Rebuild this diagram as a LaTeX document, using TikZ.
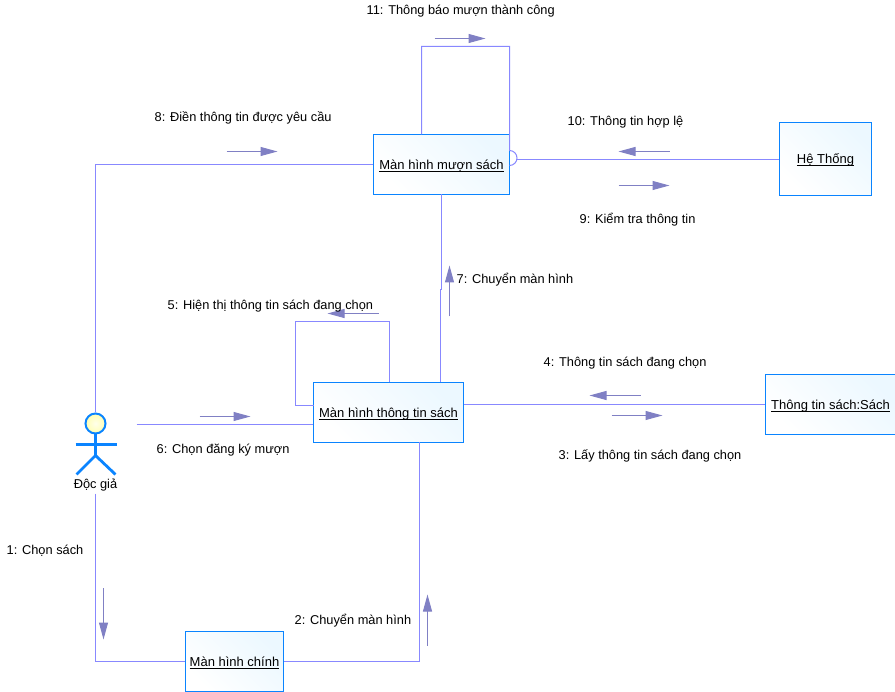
\documentclass[tikz,border=0pt]{standalone}
\usepackage{fontspec}
\setmainfont{Liberation Sans}
\usetikzlibrary{arrows.meta}
\definecolor{boxline}{HTML}{0A84FF}
\definecolor{boxfill}{HTML}{ECF8FF}
\definecolor{linkline}{HTML}{8888FF}
\definecolor{msgline}{HTML}{8080C4}
\newcommand{\objname}[1]{\underline{\smash{#1}}}
\tikzset{
  objbox/.style={shape=rectangle, draw=boxline, line width=1.4pt, left color=white, right color=boxfill, shading angle=135, inner sep=0pt, text height=13pt, text depth=3pt, font=\fontsize{13}{14}\selectfont},
  link/.style={-, line width=1pt, draw=linkline},
  msg/.style={-{Triangle[length=17pt,width=9pt]}, line width=1pt, draw=msgline},
  msglabel/.style={anchor=west, inner sep=0pt, yshift=-1pt, font=\fontsize{12.8}{14}\selectfont},
  limb/.style={line width=2.8pt, draw=boxline}
}
\begin{document}
\begin{tikzpicture}[x=1pt,y=-1pt]
\useasboundingbox (-0.5,-0.5) rectangle (894.5,691.5);
% objects
\node[objbox, minimum width=136pt, minimum height=60pt] (muon) at (441,164) {\objname{Màn hình mượn sách}};
\node[objbox, minimum width=92pt, minimum height=73pt] (heth) at (825,158.5) {\objname{Hệ Thống}};
\node[objbox, minimum width=150pt, minimum height=60pt] (ttin) at (388,412) {\objname{Màn hình thông tin sách}};
\node[objbox, minimum width=130pt, minimum height=60pt] (sach) at (830,404) {\objname{Thông tin sách:Sách}};
\node[objbox, minimum width=98pt, minimum height=60pt] (chinh) at (234,661) {\objname{Màn hình chính}};
% actor
\coordinate (neck) at (95,455);
\coordinate (armL) at (75,444);
\coordinate (armR) at (116,444);
\coordinate (legL) at (76,474);
\coordinate (legR) at (115,474);
\node[shape=circle, draw=boxline, line width=2pt, inner color=yellow!8, outer color=yellow!30, minimum size=20pt, inner sep=0pt] (head) at (95,423) {};
\draw[limb] (head) -- (neck);
\draw[limb] (armL) -- (armR);
\draw[limb] (legL) -- (neck) -- (legR);
\node[inner sep=0pt, font=\fontsize{12.8}{14}\selectfont, minimum height=16pt] (docgia) at (95,485) {Độc giả};
% connectors
\coordinate (c1) at (419,442);
\coordinate (c2) at (136,424);
\coordinate (c3) at (441,194);
\coordinate (c4) at (441,289);
\coordinate (c5) at (440,289);
\coordinate (c6) at (440,382);
\coordinate (l1) at (421,134);
\coordinate (l2) at (421,46);
\coordinate (l3) at (509,46);
\coordinate (l4) at (509,150);
\coordinate (l5) at (389,382);
\coordinate (l6) at (389,321);
\coordinate (l7) at (295,321);
\coordinate (l8) at (295,405);
\coordinate (l9) at (313,405);
\coordinate (j1) at (516,159);
\path [link] (head) |- (muon.west);
\path [link] (docgia) |- (chinh.west);
\path [link] (chinh.east) -| (c1);
\path [link] (c2) -- (c2 -| ttin.west);
\path [link] (c3) -- (c4) -- (c5) -- (c6);
\path [link] (l1) -- (l2) -- (l3) -- (l4) arc[start angle=90, end angle=-90, radius=7.5pt];
\path [link] (l5) -- (l6) -- (l7) -- (l8) -- (l9);
\path [link] (heth.west |- j1) -- (j1);
\path [link] (ttin.east |- sach.west) -- (sach.west);
% message arrows
\coordinate (m1a) at (103,588);   \coordinate (m1b) at (103,639);
\coordinate (m2a) at (427,645);   \coordinate (m2b) at (427,594);
\coordinate (m3a) at (611,415);   \coordinate (m3b) at (662,415);
\coordinate (m4a) at (640,395);   \coordinate (m4b) at (589,395);
\coordinate (m5a) at (378,313);   \coordinate (m5b) at (327,313);
\coordinate (m6a) at (199,416);   \coordinate (m6b) at (250,416);
\coordinate (m7a) at (449,316);   \coordinate (m7b) at (449,265);
\coordinate (m8a) at (226,151);   \coordinate (m8b) at (277,151);
\coordinate (m9a) at (618,185);   \coordinate (m9b) at (669,185);
\coordinate (m10a) at (669,151);  \coordinate (m10b) at (618,151);
\coordinate (m11a) at (434,38);   \coordinate (m11b) at (485,38);
\draw [msg] (m1a) -- (m1b);
\draw [msg] (m2a) -- (m2b);
\draw [msg] (m3a) -- (m3b);
\draw [msg] (m4a) -- (m4b);
\draw [msg] (m5a) -- (m5b);
\draw [msg] (m6a) -- (m6b);
\draw [msg] (m7a) -- (m7b);
\draw [msg] (m8a) -- (m8b);
\draw [msg] (m9a) -- (m9b);
\draw [msg] (m10a) -- (m10b);
\draw [msg] (m11a) -- (m11b);
% message labels
\node[msglabel] (t1) at (6,549) {1: Chọn sách};
\node[msglabel] (t2) at (294,619) {2: Chuyển màn hình};
\node[msglabel] (t3) at (558,454) {3: Lấy thông tin sách đang chọn};
\node[msglabel] (t4) at (543,362) {4: Thông tin sách đang chọn};
\node[msglabel] (t5) at (167,305) {5: Hiện thị thông tin sách đang chọn};
\node[msglabel] (t6) at (156,449) {6: Chọn đăng ký mượn};
\node[msglabel] (t7) at (456,278) {7: Chuyển màn hình};
\node[msglabel] (t8) at (154,116) {8: Điền thông tin được yêu cầu};
\node[msglabel] (t9) at (579,218) {9: Kiểm tra thông tin};
\node[msglabel] (t10) at (567,121) {10: Thông tin hợp lệ};
\node[msglabel] (t11) at (366,10) {11: Thông báo mượn thành công};
\end{tikzpicture}
\end{document}
